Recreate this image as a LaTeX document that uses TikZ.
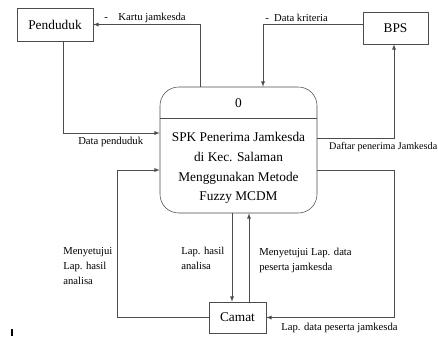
\documentclass[tikz,border=0pt]{standalone}
\usepackage{fontspec}
\setmainfont{Liberation Serif}
\tikzstyle{entity}=[draw=black!70, fill=white, inner sep=0pt, font=\fontsize{10}{12}\selectfont]
\tikzstyle{flow}=[draw=black!70, ->]
\tikzstyle{lbl}=[font=\fontsize{8}{11.3}\selectfont, inner sep=0pt, align=left]

\begin{document}
\begin{tikzpicture}[>=latex, x=0.75pt, y=-0.75pt]
    \useasboundingbox (0,0) rectangle (438,336);
    \node[entity, minimum width=57pt, minimum height=24.75pt] (pend) at (55,24.5) {Penduduk};
    \node[entity, minimum width=48.75pt, minimum height=24pt] (bps) at (395.5,28) {BPS};
    \node[entity, minimum width=42.75pt, minimum height=23.25pt] (camat) at (237.5,317.5) {Camat};
    \node[entity, rounded corners=14pt, minimum width=117.75pt, minimum height=94.5pt] (proc) at (238.5,150) {};
    \draw[black!70] ([yshift=-24pt]proc.north west) -- ([yshift=-24pt]proc.north east);
    \node[font=\fontsize{10}{12}\selectfont] (pid) at (238.5,103) {0};
    \node[align=center, font=\fontsize{10}{14.8}\selectfont] (ptxt) at (238.5,168) {SPK Penerima Jamkesda\\di Kec. Salaman\\Menggunakan Metode\\Fuzzy MCDM};
    \coordinate (k1) at (200,24.5);
    \coordinate (d1) at (263,24);
    \coordinate (d2) at (394,138);
    \coordinate (d3) at (63,133);
    \coordinate (m1) at (117,170);
    \coordinate (l1) at (232,0);
    \coordinate (l2) at (249,0);
    \coordinate (l3) at (394,170);
    \draw[flow] (proc.north -| k1) -- (k1) -- (pend.east);
    \draw[flow] (bps.west |- d1) -- (d1) -- (proc.north -| d1);
    \draw[flow] (proc.east |- d2) -- (d2) -- (bps.south -| d2);
    \draw[flow] (pend.south -| d3) -- (d3) -- (proc.west |- d3);
    \draw[flow] (camat.west) -- (camat.west -| m1) -- (m1) -- (proc.west |- m1);
    \draw[flow] (proc.south -| l1) -- (camat.north -| l1);
    \draw[flow] (camat.north -| l2) -- (proc.south -| l2);
    \draw[flow] (proc.east |- l3) -- (l3) -- (l3 |- camat.east) -- (camat.east);
    \node[lbl, anchor=base west] (lkartu) at (104,20) {-\quad Kartu jamkesda};
    \node[lbl, anchor=base west] (lkrit) at (265,21) {-\enspace Data kriteria};
    \node[lbl, anchor=base east, font=\fontsize{7.6}{11.3}\selectfont] (ldaftar) at (437.5,149) {Daftar penerima Jamkesda};
    \node[lbl, anchor=base west] (lpend) at (78,144) {Data penduduk};
    \node[lbl, anchor=north west] (lsetuju) at (63,247) {Menyetujui\\Lap. hasil\\analisa};
    \node[lbl, anchor=north west] (lhasil) at (181,247) {Lap. hasil\\analisa};
    \node[lbl, anchor=north west] (lsetujudata) at (259,248) {Menyetujui Lap. data\\peserta jamkesda};
    \node[lbl, anchor=north west] (lpeserta) at (281,323) {Lap. data peserta jamkesda};
    \draw[line width=1pt] (12,329) -- (12,336);
\end{tikzpicture}
\end{document}
